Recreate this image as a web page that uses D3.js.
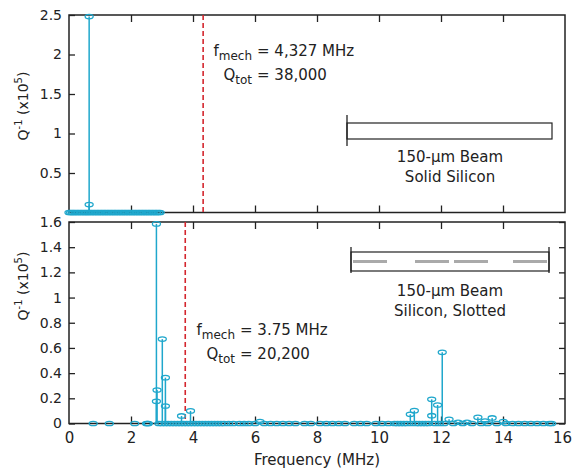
<!DOCTYPE html>
<html>
<head>
<meta charset="utf-8">
<script src="https://cdn.jsdelivr.net/npm/d3@7"></script>
<style>
  body { margin: 0; background: #fff; }
  svg text { font-family: "DejaVu Sans", sans-serif; fill: #222; }
</style>
</head>
<body>
<div id="chart"></div>
<script>
// Values (MHz, Q^-1 x 10^5)

var topStemFreq = [0.65, 0.65],
    topStemQ = [2.48, 0.10];

var topZeroFreq = [0.00, 0.05, 0.10, 0.15, 0.20, 0.26, 0.31, 0.37, 0.42, 0.48, 0.53, 0.58,
  0.63, 0.69, 0.74, 0.80, 0.85, 0.91, 0.96, 1.02, 1.07, 1.13, 1.18, 1.24, 1.29, 1.35,
  1.40, 1.46, 1.51, 1.57, 1.62, 1.68, 1.73, 1.79, 1.84, 1.90, 1.95, 2.01, 2.06, 2.12,
  2.17, 2.23, 2.28, 2.34, 2.39, 2.45, 2.50, 2.56, 2.61, 2.67, 2.72, 2.78, 2.83, 2.89, 2.94];

var bottomStemFreq = [2.82, 2.84, 2.82, 3.01, 3.11, 3.11, 3.63, 3.92, 6.16, 11.01, 11.14,
  11.70, 11.70, 11.89, 12.04, 12.26, 12.55, 12.84, 13.19, 13.42, 13.65, 14.01],
    bottomStemQ = [1.585, 0.266, 0.176, 0.67, 0.364, 0.139, 0.06, 0.10, 0.015, 0.073, 0.102,
  0.192, 0.062, 0.147, 0.565, 0.033, 0.01, 0.01, 0.049, 0.02, 0.044, 0.015];

var bottomZeroFreq = [0.78, 1.30, 2.12, 2.50, 2.53, 2.56, 2.90, 3.00, 3.10, 3.20, 3.30, 3.40,
  3.50, 3.60, 3.70, 3.80, 3.90, 4.00, 4.10, 4.20, 4.30, 4.40, 4.50, 4.60, 4.70, 4.80, 4.90,
  5.00, 5.15, 5.30, 5.50, 5.65, 5.80, 6.00, 6.30, 6.50, 6.70, 6.90, 7.10, 7.30, 7.60, 7.80,
  8.10, 8.30, 8.50, 8.70, 8.90, 9.20, 9.40, 9.60, 9.90, 10.10, 10.30, 10.50, 10.60, 10.70,
  10.80, 10.90, 11.05, 11.20, 11.30, 11.40, 11.50, 11.60, 11.80, 11.95, 12.10, 12.40, 12.70,
  13.00, 13.30, 13.50, 13.80, 14.10, 14.30, 14.50, 14.70, 14.90, 15.10, 15.30, 15.50, 15.57];

var fMechTop = 4.327, fMechBottom = 3.75;

var xTicks = [0, 2, 4, 6, 8, 10, 12, 14, 16],
    topYTicks = [0.5, 1, 1.5, 2, 2.5],
    bottomYTicks = [0, 0.2, 0.4, 0.6, 0.8, 1, 1.2, 1.4, 1.6];

var cyan = "#1fa7cc", red = "#d4262e", ink = "#222";

var svg = d3.select("#chart").append("svg")
    .attr("width", 572)
    .attr("height", 471);

var x = d3.scaleLinear().domain([0, 16]).range([69, 565]);
var yTop = d3.scaleLinear().domain([0, 2.5]).range([212.5, 15]);
var yBot = d3.scaleLinear().domain([0, 1.6]).range([423.5, 222]);

var fmt = d3.format("~g");

// Draws one panel: frame, ticks, stems, markers
function drawPanel(y, yTicks, stemF, stemQ, zeroF, fMech, rightTicks, xLabels) {
  var g = svg.append("g");
  var y0 = y.range()[0], y1 = y.range()[1];

  // frame
  g.append("rect")
      .attr("x", x(0)).attr("y", y1)
      .attr("width", x(16) - x(0)).attr("height", y0 - y1)
      .attr("fill", "none").attr("stroke", ink).attr("stroke-width", 1.5);

  // left axis, ticks inward
  var left = g.append("g")
      .attr("transform", "translate(" + x(0) + ",0)")
      .call(d3.axisLeft(y).tickValues(yTicks).tickSize(-6).tickPadding(7).tickFormat(fmt));
  left.select(".domain").remove();
  left.selectAll("text").style("font-size", "14px").attr("font-family", null);
  left.selectAll("line").attr("stroke", ink).attr("stroke-width", 1.3);

  if (rightTicks) {
    var right = g.append("g")
        .attr("transform", "translate(" + x(16) + ",0)")
        .call(d3.axisRight(y).tickValues(yTicks).tickSize(-6).tickFormat(""));
    right.select(".domain").remove();
    right.selectAll("line").attr("stroke", ink).attr("stroke-width", 1.3);
  }

  // top edge ticks
  var topAx = g.append("g")
      .attr("transform", "translate(0," + y1 + ")")
      .call(d3.axisTop(x).tickValues(xTicks.slice(1, -1)).tickSize(-7).tickFormat(""));
  topAx.select(".domain").remove();
  topAx.selectAll("line").attr("stroke", ink).attr("stroke-width", 1.3);

  // bottom edge ticks
  var botAx = g.append("g")
      .attr("transform", "translate(0," + y0 + ")")
      .call(d3.axisBottom(x).tickValues(xLabels ? xTicks : xTicks.slice(1, -1))
        .tickSize(-7).tickPadding(9).tickFormat(xLabels ? fmt : ""));
  botAx.select(".domain").remove();
  botAx.selectAll("line").attr("stroke", ink).attr("stroke-width", 1.3);
  botAx.selectAll("text").style("font-size", "15px").attr("font-family", null);
  botAx.selectAll(".tick").filter(function(d) { return d === 0 || d === 16; })
      .select("line").remove();
  // keep the last label inside the window
  botAx.selectAll(".tick").filter(function(d) { return d === 16; })
      .select("text").attr("dx", -3);

  // f_mech marker
  g.append("line")
      .attr("x1", x(fMech)).attr("x2", x(fMech))
      .attr("y1", y1).attr("y2", y0)
      .attr("stroke", red).attr("stroke-width", 1.6)
      .attr("stroke-dasharray", "5,3");

  // stems
  var stems = stemF.map(function(f, i) { return {f: f, q: stemQ[i]}; });
  g.selectAll(".stem").data(stems).enter()
    .append("line")
      .attr("class", "stem")
      .attr("x1", function(d) { return x(d.f); })
      .attr("x2", function(d) { return x(d.f); })
      .attr("y1", y(0))
      .attr("y2", function(d) { return y(d.q); })
      .attr("stroke", cyan).attr("stroke-width", 1.5);

  var pts = zeroF.map(function(f) { return {f: f, q: 0}; }).concat(stems);
  g.selectAll(".mark").data(pts).enter()
    .append("ellipse")
      .attr("class", "mark")
      .attr("cx", function(d) { return x(d.f); })
      .attr("cy", function(d) { return y(d.q); })
      .attr("rx", 4)
      .attr("ry", 2.2)
      .attr("fill", "none")
      .attr("stroke", cyan)
      .attr("stroke-width", 1.3);
}

drawPanel(yTop, topYTicks, topStemFreq, topStemQ, topZeroFreq, fMechTop, false, false);
drawPanel(yBot, bottomYTicks, bottomStemFreq, bottomStemQ, bottomZeroFreq, fMechBottom, true, true);

// y axis titles
function yTitle(cx, cy) {
  var t = svg.append("text")
      .attr("transform", "translate(" + cx + "," + cy + ") rotate(-90)")
      .attr("text-anchor", "middle")
      .style("font-size", "14px");
  t.append("tspan").text("Q");
  t.append("tspan").attr("dy", -6).style("font-size", "10px").text("-1");
  t.append("tspan").attr("dy", 6).text(" (x10");
  t.append("tspan").attr("dy", -6).style("font-size", "10px").text("5");
  t.append("tspan").attr("dy", 6).text(")");
}
yTitle(28, 106);
yTitle(28, 286);

svg.append("text")
    .attr("x", 317).attr("y", 465)
    .attr("text-anchor", "middle")
    .style("font-size", "15px")
    .text("Frequency (MHz)");

// f_mech / Q_tot annotations
function annot(eqX, baseY, fVal, qVal) {
  var rows = [["f", "mech", fVal], ["Q", "tot", qVal]];
  rows.forEach(function(r, i) {
    var yy = baseY + i * 24;
    var t = svg.append("text")
        .attr("x", eqX - 5).attr("y", yy)
        .attr("text-anchor", "end")
        .style("font-size", "15px");
    t.append("tspan").text(r[0]);
    t.append("tspan").attr("dy", 4).style("font-size", "12px").text(r[1]);
    svg.append("text")
        .attr("x", eqX).attr("y", yy)
        .style("font-size", "15px")
        .text("=  " + r[2]);
  });
}
annot(257, 56, "4,327 MHz", "38,000");
annot(240, 335, "3.75 MHz", "20,200");

// beam insets
var beamTop = svg.append("g");
beamTop.append("rect")
    .attr("x", 347).attr("y", 123).attr("width", 205).attr("height", 16)
    .attr("fill", "none").attr("stroke", ink).attr("stroke-width", 1.2);
beamTop.append("line")
    .attr("x1", 347).attr("x2", 347).attr("y1", 115).attr("y2", 146)
    .attr("stroke", ink).attr("stroke-width", 1.3);

var beamBot = svg.append("g");
beamBot.append("rect")
    .attr("x", 351).attr("y", 252).attr("width", 198).attr("height", 19)
    .attr("fill", "none").attr("stroke", ink).attr("stroke-width", 1.2);
[351, 549].forEach(function(px) {
  beamBot.append("line")
      .attr("x1", px).attr("x2", px).attr("y1", 247).attr("y2", 273)
      .attr("stroke", ink).attr("stroke-width", 1.3);
});
[[353, 387], [415, 449], [454, 488], [513, 547]].forEach(function(s) {
  beamBot.append("line")
      .attr("x1", s[0]).attr("x2", s[1]).attr("y1", 261.5).attr("y2", 261.5)
      .attr("stroke", "#aaa").attr("stroke-width", 3);
});

function caption(cx, y, lines) {
  lines.forEach(function(l, i) {
    svg.append("text")
        .attr("x", cx).attr("y", y + i * 20)
        .attr("text-anchor", "middle")
        .style("font-size", "15px")
        .text(l);
  });
}
caption(450, 162, ["150-μm Beam", "Solid Silicon"]);
caption(450, 296, ["150-μm Beam", "Silicon, Slotted"]);
</script>
</body>
</html>
